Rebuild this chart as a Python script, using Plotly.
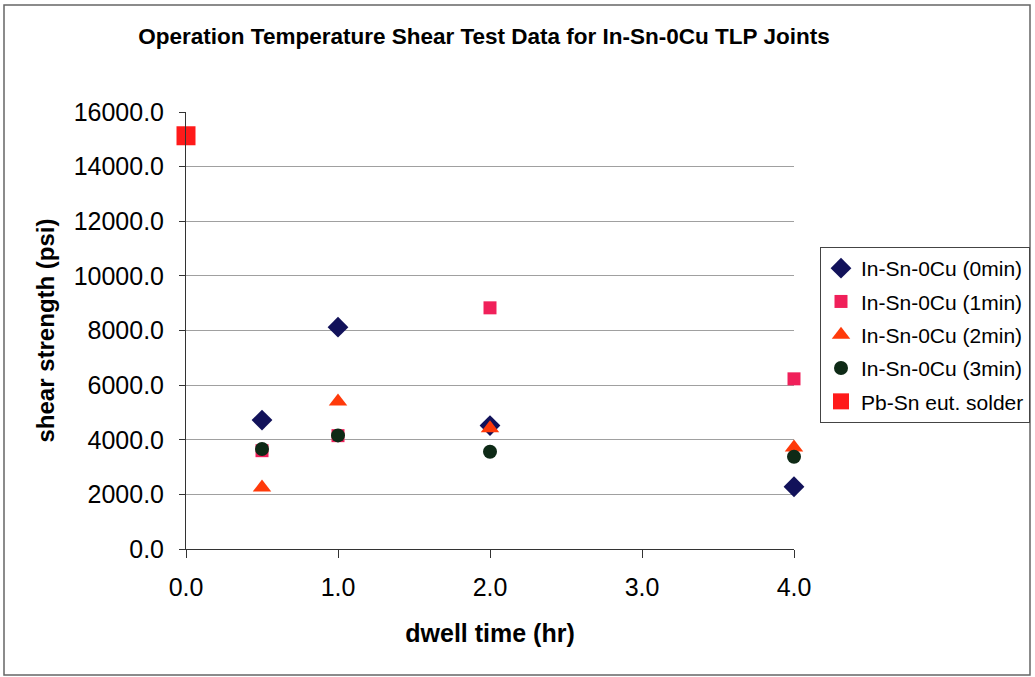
import plotly.graph_objects as go

# dwell times (hr) and shear strengths (psi)
dwell_in_sn = [0.5, 1.0, 2.0, 4.0]
strength_0min = [4720, 8120, 4520, 2280]
strength_1min = [3600, 4150, 8830, 6230]
strength_2min = [2250, 5400, 4420, 3720]
strength_3min = [3660, 4160, 3560, 3380]

dwell_pbsn = [0.0]
strength_pbsn = [15130]

y_ticks = [0, 2000, 4000, 6000, 8000, 10000, 12000, 14000, 16000]
x_ticks = [0, 1, 2, 3, 4]

FONT = "Liberation Sans, Arial, sans-serif"

series = [
    ("In-Sn-0Cu (0min)", dwell_in_sn, strength_0min, "diamond", "#12125a", 16),
    ("In-Sn-0Cu (1min)", dwell_in_sn, strength_1min, "square", "#f0205a", 13),
    ("In-Sn-0Cu (2min)", dwell_in_sn, strength_2min, "triangle-up", "#ff3a0a", 16),
    ("In-Sn-0Cu (3min)", dwell_in_sn, strength_3min, "circle", "#0e2a16", 14),
    ("Pb-Sn eut. solder", dwell_pbsn, strength_pbsn, "square", "#ff1a1a", 19),
]

fig = go.Figure()
for i, (name, xs, ys, sym, col, size) in enumerate(series):
    fig.add_trace(go.Scatter(
        x=xs, y=ys, mode="markers", name=name, legendgroup=f"g{i}",
        marker=dict(symbol=sym, color=col, size=size, line=dict(width=0)),
        cliponaxis=False,
    ))

# plot-area edges in pixels, used to place the frame and legend
L, R, T, B = 186, 794, 112, 549
def px_x(p):
    return (p - L) / (R - L)
def px_y(p):
    return (B - p) / (B - T)

# outer chart frame
fig.add_shape(type="rect", xref="paper", yref="paper",
              x0=px_x(4), x1=px_x(1030), y0=px_y(675), y1=px_y(5),
              line=dict(color="#666666", width=1.5), fillcolor="rgba(0,0,0,0)",
              layer="below")

fig.update_layout(
    width=1035, height=677,
    margin=dict(l=L, r=1035 - R, t=T, b=677 - B, pad=0, autoexpand=False),
    paper_bgcolor="white", plot_bgcolor="white",
    font=dict(family=FONT, color="black"),
    title=dict(
        text="<b>Operation Temperature Shear Test Data for In-Sn-0Cu TLP Joints</b>",
        font=dict(family=FONT, size=22.5),
        x=484 / 1035, xref="container", xanchor="center",
        y=1 - 36 / 677, yref="container", yanchor="middle",
    ),
    xaxis=dict(
        range=[0, 4], tickvals=x_ticks, tickformat=".1f",
        showgrid=False, zeroline=False,
        showline=True, linecolor="#333333", linewidth=1,
        ticks="outside", ticklen=8, tickcolor="#333333",
        tickfont=dict(size=25), ticklabelstandoff=8,
        title=dict(text="<b>dwell time (hr)</b>", font=dict(size=25), standoff=24),
    ),
    yaxis=dict(
        range=[0, 16000], tickvals=y_ticks, tickformat=".1f",
        showgrid=True, gridcolor="#a0a0a0", gridwidth=1,
        zeroline=False,
        showline=True, linecolor="#333333", linewidth=1,
        ticks="outside", ticklen=6, tickcolor="#333333",
        tickfont=dict(size=25), ticklabelstandoff=10,
        title=dict(text="<b>shear strength (psi)</b>", font=dict(size=24), standoff=12),
    ),
    legend=dict(
        x=px_x(820), xanchor="left", y=px_y(247), yanchor="top",
        bordercolor="#444444", borderwidth=1, bgcolor="white",
        font=dict(size=21), itemwidth=30, tracegroupgap=3,
    ),
    showlegend=True,
)

fig.write_html("out.html")
